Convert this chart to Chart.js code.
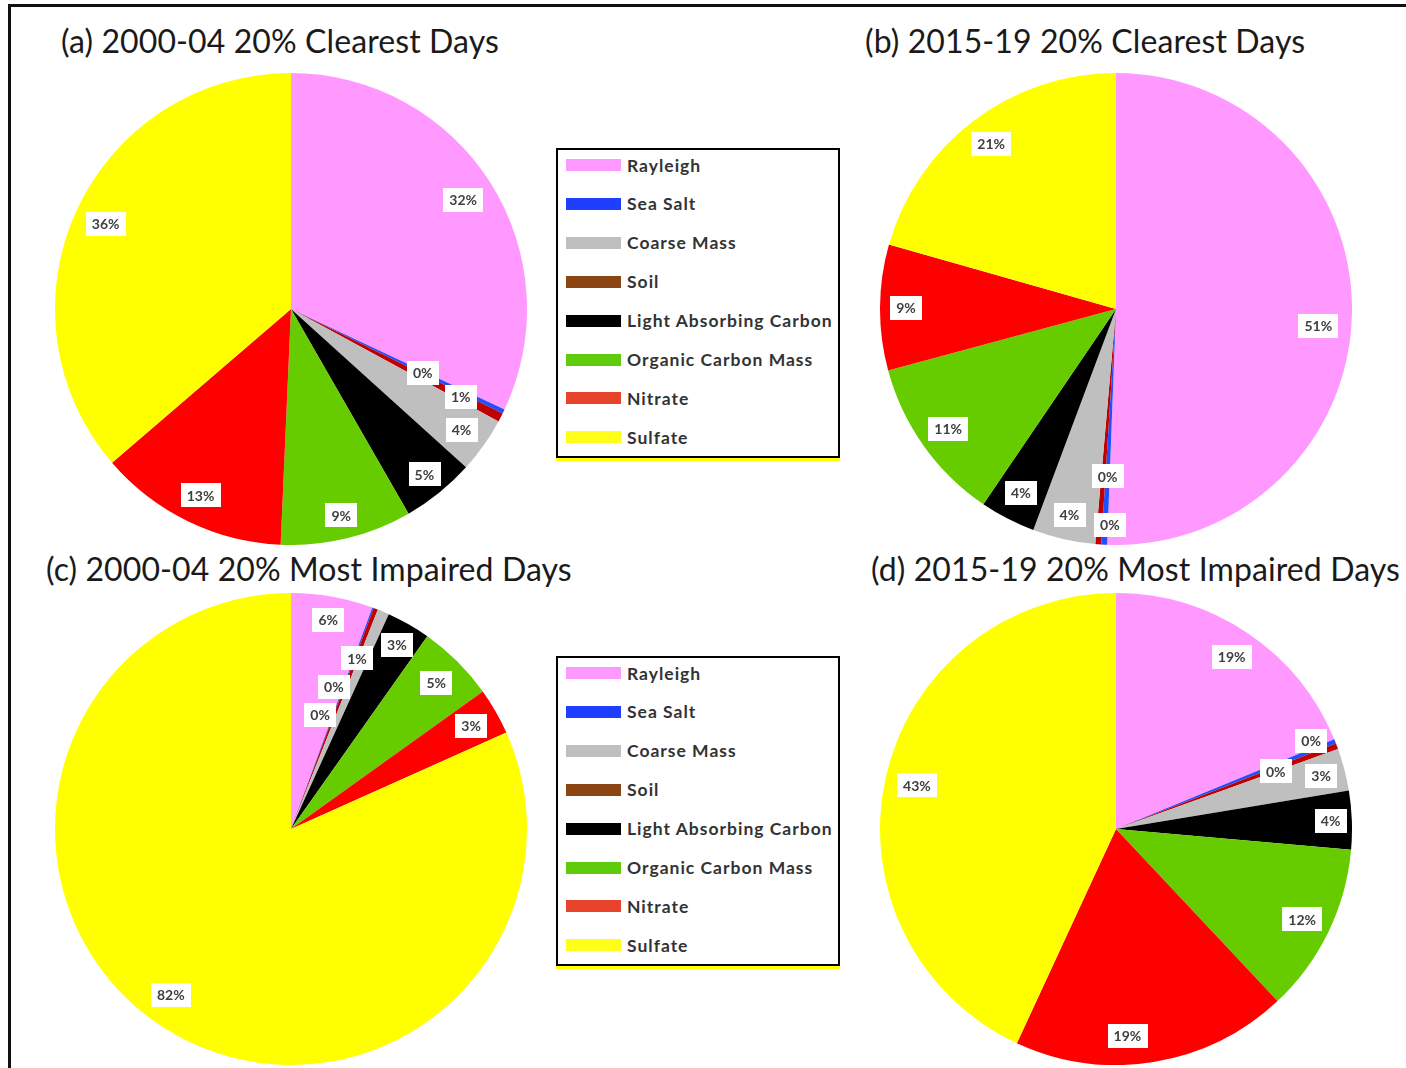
<!DOCTYPE html>
<html>
<head>
<meta charset="utf-8">
<script src="https://cdn.jsdelivr.net/npm/chart.js@4"></script>
<style>
  body { margin: 0; background: #fff; width: 1406px; height: 1068px; position: relative; overflow: hidden; font-family: Lato, "Open Sans", sans-serif; }
  .frame { position: absolute; left: 8px; top: 4px; width: 1420px; height: 1100px; border-top: 3px solid #111; border-left: 3px solid #111; }
  .title { position: absolute; font-size: 32px; letter-spacing: 0.1px; color: #1a1a1a; white-space: nowrap; line-height: 1; }
  .pie { position: absolute; }
  .legend { position: absolute; left: 556px; width: 280px; height: 306px; border: 2px solid #000; box-shadow: 0 3px 0 #ffff00; }
  .legend .row { position: absolute; left: 8px; height: 20px; display: flex; align-items: center; }
  .legend .sw { width: 55px; height: 12px; margin-right: 6px; }
  .legend .lbl { font-size: 17.5px; font-weight: 700; letter-spacing: 1px; color: #333; white-space: nowrap; }
</style>
</head>
<body>
<div class="frame"></div>

<div class="title" style="left:61px; top:25px;">(a) 2000-04 20% Clearest Days</div>
<div class="title" style="left:865px; top:25px;">(b) 2015-19 20% Clearest Days</div>
<div class="title" style="left:46px; top:553px;">(c) 2000-04 20% Most Impaired Days</div>
<div class="title" style="left:871px; top:553px;">(d) 2015-19 20% Most Impaired Days</div>

<canvas id="pieA" class="pie" width="472" height="472" style="left:55px; top:73px;"></canvas>
<canvas id="pieB" class="pie" width="472" height="472" style="left:880px; top:73px;"></canvas>
<canvas id="pieC" class="pie" width="472" height="472" style="left:55px; top:593px;"></canvas>
<canvas id="pieD" class="pie" width="472" height="472" style="left:880px; top:593px;"></canvas>

<div class="legend" id="legend1" style="top:148px;"></div>
<div class="legend" id="legend2" style="top:656px;"></div>

<script>
// order of the slices (clockwise from the top)
const components = ["Rayleigh", "Sea Salt", "Soil", "Coarse Mass", "Light Absorbing Carbon", "Organic Carbon Mass", "Nitrate", "Sulfate"];
const sliceColors = ["#ff99ff", "#1f4fff", "#c00000", "#bfbfbf", "#000000", "#66cc00", "#ff0000", "#ffff00"];

// percent of light extinction
const clear2000 = [32.0, 0.3, 0.6, 3.8, 5.0, 9.0, 13.0, 36.3];
const clear2015 = [50.6, 0.4, 0.4, 4.3, 3.8, 11.3, 8.6, 20.6];
const impaired2000 = [5.6, 0.1, 0.3, 0.8, 3.0, 5.3, 3.2, 81.7];
const impaired2015 = [18.8, 0.3, 0.4, 2.9, 4.0, 11.6, 18.9, 43.1];

// legend (its own order and colours)
const legendLabels = ["Rayleigh", "Sea Salt", "Coarse Mass", "Soil", "Light Absorbing Carbon", "Organic Carbon Mass", "Nitrate", "Sulfate"];
const legendColors = ["#ff99ff", "#1f3fff", "#bfbfbf", "#8b4513", "#000000", "#5ecc0a", "#e8432b", "#ffff1a"];

// build the two legends
function buildLegend(id) {
    const box = document.getElementById(id);
    legendLabels.forEach((name, i) => {
        const row = document.createElement("div");
        row.className = "row";
        row.style.top = (5 + i * 38.9) + "px";
        row.innerHTML = '<div class="sw" style="background:' + legendColors[i] + '"></div><span class="lbl">' + name + '</span>';
        box.appendChild(row);
    });
}
buildLegend("legend1");
buildLegend("legend2");

// white boxed percentage labels
const pctLabels = {
    id: "pctLabels",
    afterDatasetsDraw(chart, args, opts) {
        const ctx = chart.ctx;
        const data = chart.data.datasets[0].data;
        const total = data.reduce((a, b) => a + b, 0);
        const meta = chart.getDatasetMeta(0);
        ctx.save();
        ctx.font = "bold 14px Lato, 'Open Sans', sans-serif";
        ctx.textAlign = "center";
        ctx.textBaseline = "middle";
        meta.data.forEach((arc, i) => {
            const p = arc.getProps(["x", "y", "startAngle", "endAngle", "outerRadius"], true);
            const place = (opts.place && opts.place[i]) || [0.88, 0];
            const a = (p.startAngle + p.endAngle) / 2 + place[1] * Math.PI / 180;
            const r = p.outerRadius * place[0];
            const cx = p.x + Math.cos(a) * r;
            const cy = p.y + Math.sin(a) * r;
            const txt = Math.round(data[i] / total * 100) + "%";
            const w = ctx.measureText(txt).width + 12;
            const h = 24;
            ctx.fillStyle = "#ffffff";
            ctx.fillRect(Math.round(cx - w / 2), Math.round(cy - h / 2), Math.round(w), h);
            ctx.fillStyle = "#404040";
            ctx.fillText(txt, cx, cy + 1);
        });
        ctx.restore();
    }
};

function makePie(id, values, place) {
    const ctx = document.getElementById(id).getContext("2d");
    return new Chart(ctx, {
        type: "pie",
        data: {
            labels: components,
            datasets: [{
                data: values,
                backgroundColor: sliceColors,
                borderWidth: 0
            }]
        },
        options: {
            responsive: false,
            animation: false,
            layout: { padding: 0 },
            plugins: {
                legend: { display: false },
                tooltip: { enabled: false },
                pctLabels: { place: place }
            }
        },
        plugins: [pctLabels]
    });
}

makePie("pieA", clear2000, [[0.864, 0], [0.62, 0], [0.81, 0], [0.885, 0], [0.9, 0], [0.9, 0], [0.877, 0], [0.864, 0]]);
makePie("pieB", clear2015, [[0.86, 3.7], [0.71, 0], [0.915, -2.7], [0.894, 0], [0.877, 0], [0.873, 0], [0.89, 0], [0.877, 0]]);
makePie("pieC", impaired2000, [[0.9, 0], [0.63, -3.6], [0.5, -6.8], [0.775, -1.9], [0.9, 0], [0.873, 0], [0.88, 0], [0.868, 3]]);
makePie("pieD", impaired2015, [[0.88, 0], [0.907, -2.5], [0.72, 0.6], [0.898, 0], [0.91, 0], [0.877, 0], [0.877, 6], [0.864, 0]]);
</script>
</body>
</html>
